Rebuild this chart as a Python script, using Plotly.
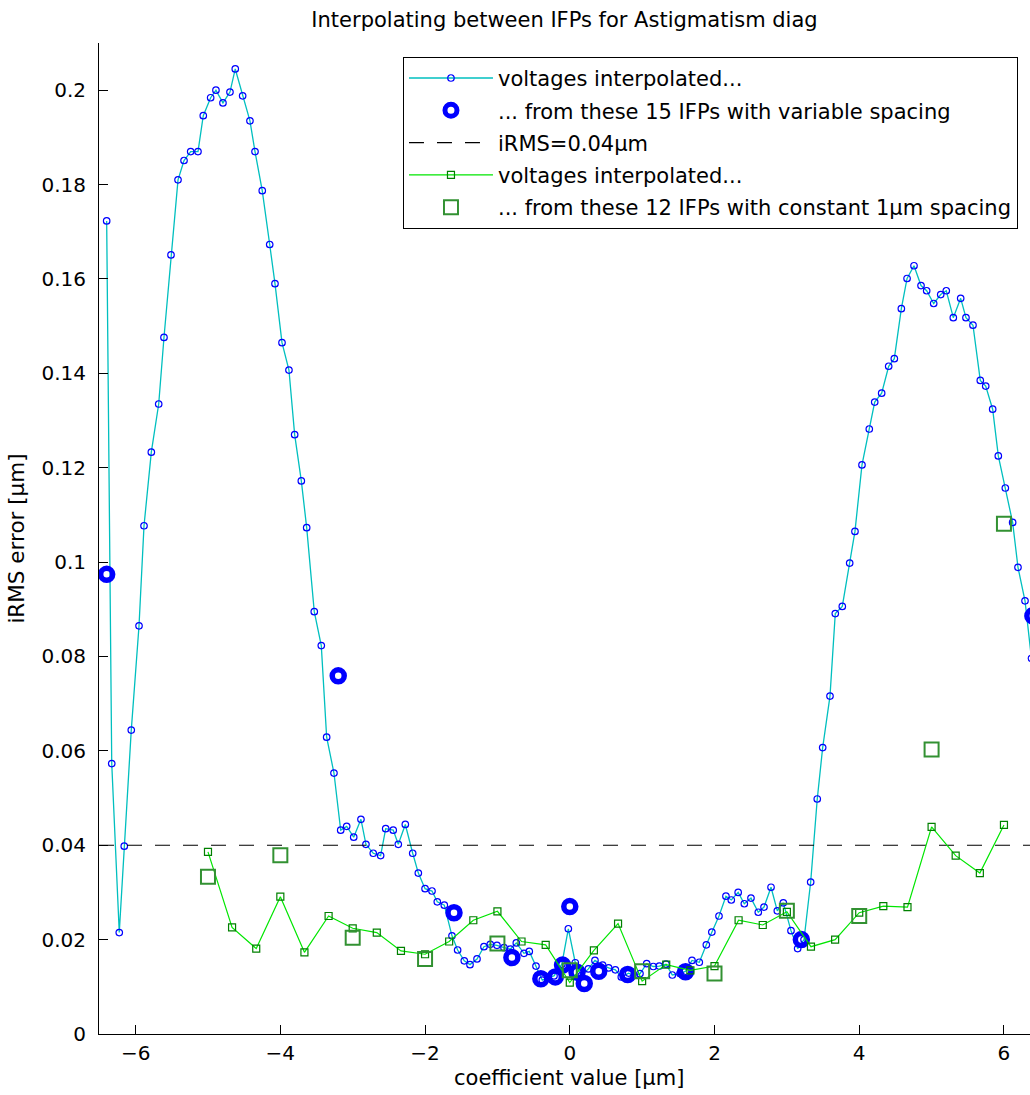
import plotly.graph_objects as go

# Interpolated voltages between 15 IFPs placed with variable spacing
var_x = [-6.40, -6.33, -6.226, -6.157, -6.06, -5.953, -5.884, -5.783, -5.681, -5.608,
         -5.511, -5.414, -5.331, -5.239, -5.138, -5.065, -4.963, -4.89, -4.793, -4.696,
         -4.623, -4.521, -4.42, -4.35, -4.25, -4.147, -4.074, -3.977, -3.881, -3.802,
         -3.71, -3.636, -3.531, -3.434, -3.36, -3.259, -3.166, -3.083, -2.986, -2.886,
         -2.817, -2.716, -2.614, -2.544, -2.44, -2.37, -2.273, -2.171, -2.093, -2.0,
         -1.904, -1.831, -1.734, -1.628, -1.55, -1.458, -1.379, -1.282, -1.186, -1.099,
         -1.006, -0.909, -0.82, -0.739, -0.633, -0.56, -0.467, -0.38, -0.3, -0.218,
         -0.11, -0.02, 0.076, 0.16, 0.257, 0.348, 0.454, 0.537, 0.63, 0.712,
         0.814, 0.89, 0.97, 1.063, 1.154, 1.237, 1.33, 1.417, 1.523, 1.6,
         1.689, 1.79, 1.887, 1.963, 2.062, 2.158, 2.232, 2.327, 2.412, 2.504,
         2.605, 2.684, 2.781, 2.868, 2.951, 3.057, 3.149, 3.237, 3.329, 3.42,
         3.495, 3.596, 3.669, 3.766, 3.868, 3.941, 4.038, 4.139, 4.214, 4.31,
         4.407, 4.485, 4.582, 4.661, 4.757, 4.854, 4.932, 5.029, 5.126, 5.203,
         5.3, 5.402, 5.475, 5.572, 5.673, 5.748, 5.844, 5.922, 6.019, 6.12,
         6.194, 6.291, 6.38]
var_err = [0.1723, 0.0573, 0.0215, 0.0398, 0.0644, 0.0865, 0.1077, 0.1233, 0.1335, 0.1476,
           0.1651, 0.1810, 0.1851, 0.1870, 0.1870, 0.1946, 0.1984, 0.2000, 0.1973, 0.1996,
           0.2045, 0.1988, 0.1935, 0.1870, 0.1787, 0.1673, 0.1590, 0.1465, 0.1407, 0.1270,
           0.1172, 0.1073, 0.0895, 0.0823, 0.0629, 0.0553, 0.0432, 0.0440, 0.0417, 0.0455,
           0.0402, 0.0383, 0.0378, 0.0435, 0.0432, 0.0402, 0.0444, 0.0383, 0.0341, 0.0308,
           0.0303, 0.0280, 0.0273, 0.0208, 0.0178, 0.0155, 0.0147, 0.0159, 0.0185, 0.0190,
           0.0188, 0.0183, 0.0180, 0.0193, 0.0171, 0.0175, 0.0144, 0.0114, 0.0120, 0.0123,
           0.0148, 0.0223, 0.0151, 0.0124, 0.0138, 0.0156, 0.0146, 0.0140, 0.0136, 0.0121,
           0.0129, 0.0124, 0.0128, 0.0149, 0.0143, 0.0144, 0.0148, 0.0125, 0.0128, 0.0133,
           0.0156, 0.0152, 0.0189, 0.0216, 0.0250, 0.0292, 0.0284, 0.0300, 0.0276, 0.0288,
           0.0258, 0.0269, 0.0311, 0.0261, 0.0278, 0.0219, 0.0181, 0.0200, 0.0322, 0.0498,
           0.0607, 0.0716, 0.0891, 0.0906, 0.0998, 0.1065, 0.1206, 0.1282, 0.1339, 0.1358,
           0.1415, 0.1431, 0.1537, 0.1601, 0.1628, 0.1586, 0.1575, 0.1548, 0.1567, 0.1575,
           0.1518, 0.1559, 0.1518, 0.1502, 0.1385, 0.1373, 0.1324, 0.1225, 0.1157, 0.1084,
           0.0989, 0.0918, 0.0796]

# The 15 IFPs with variable spacing
var_ifp_x = [-6.4, -3.2, -1.6, -0.8, -0.4, -0.2, -0.1, 0.0, 0.1, 0.2, 0.4, 0.8, 1.6, 3.2, 6.4]
var_ifp_err = [0.0974, 0.0759, 0.0257, 0.0162, 0.0117, 0.0121, 0.0146, 0.0270, 0.0131,
               0.0107, 0.0133, 0.0126, 0.0132, 0.0200, 0.0886]

# Interpolated voltages between 12 IFPs with constant 1 µm spacing
const_x = [-5.0, -4.667, -4.333, -4.0, -3.667, -3.333, -3.0, -2.667, -2.333, -2.0,
           -1.667, -1.333, -1.0, -0.667, -0.333, 0.0, 0.333, 0.667, 1.0, 1.333,
           1.667, 2.0, 2.333, 2.667, 3.0, 3.333, 3.667, 4.0, 4.333, 4.667,
           5.0, 5.333, 5.667, 6.0]
const_err = [0.0386, 0.0226, 0.0181, 0.0291, 0.0173, 0.0250, 0.0224, 0.0215, 0.0176, 0.0169,
             0.0196, 0.0241, 0.0260, 0.0196, 0.0189, 0.0109, 0.0177, 0.0234, 0.0112, 0.0147,
             0.0135, 0.0144, 0.0241, 0.0231, 0.0259, 0.0185, 0.0200, 0.0257, 0.0271, 0.0269,
             0.0439, 0.0378, 0.0341, 0.0443]

# The 12 IFPs with constant spacing
const_ifp_x = [-5, -4, -3, -2, -1, 0, 1, 2, 3, 4, 5, 6]
const_ifp_err = [0.0333, 0.0379, 0.0204, 0.0159, 0.0192, 0.0135, 0.0133, 0.0128,
                 0.0261, 0.0250, 0.0603, 0.1081]

irms_limit = 0.04
x_range = [-6.506, 6.36]
y_range = [0, 0.21]

FONT = "DejaVu Sans"

fig = go.Figure()

fig.add_trace(go.Scatter(
    x=var_x, y=var_err, mode="lines+markers",
    name="voltages interpolated...", legendgroup="a",
    line=dict(color="rgb(0,191,191)", width=1.3),
    marker=dict(symbol="circle-open", size=6.5, color="#0000ff", line=dict(width=1.2)),
))
fig.add_trace(go.Scatter(
    x=var_ifp_x, y=var_ifp_err, mode="markers",
    name="... from these 15 IFPs with variable spacing", legendgroup="b",
    marker=dict(symbol="circle-open", size=12, color="#0000ff", line=dict(width=5.5)),
))
fig.add_trace(go.Scatter(
    x=[x_range[0], 6.5], y=[irms_limit, irms_limit], mode="lines",
    name="iRMS=0.04μm", legendgroup="c",
    line=dict(color="black", width=1.2, dash="15px,13px"),
))
fig.add_trace(go.Scatter(
    x=const_x, y=const_err, mode="lines+markers",
    name="voltages interpolated...", legendgroup="d",
    line=dict(color="#00e600", width=1.2),
    marker=dict(symbol="square-open", size=7, color="rgb(0,128,0)", line=dict(width=1.2)),
))
fig.add_trace(go.Scatter(
    x=const_ifp_x, y=const_ifp_err, mode="markers",
    name="... from these 12 IFPs with constant 1μm spacing", legendgroup="e",
    marker=dict(symbol="square-open", size=14, color="rgb(50,145,50)", line=dict(width=2)),
))

axis_common = dict(
    showline=True, linecolor="black", linewidth=1, mirror=False,
    showgrid=False, zeroline=False,
    ticks="inside", ticklen=9, tickwidth=1, tickcolor="black",
    tickfont=dict(family=FONT, size=20, color="black"),
)

fig.update_layout(
    width=1030, height=1095,
    margin=dict(l=99, r=0, t=43, b=61),
    paper_bgcolor="white", plot_bgcolor="white",
    title=dict(text="Interpolating between IFPs for Astigmatism diag",
               x=0.5, xref="paper", y=0.982, yref="container", yanchor="middle",
               font=dict(family=FONT, size=21, color="black")),
    xaxis=dict(range=x_range, tickvals=[-6, -4, -2, 0, 2, 4, 6], ticklabelstandoff=1,
               **axis_common),
    yaxis=dict(range=y_range, dtick=0.02, tick0=0, ticklabelstandoff=8,
               title=dict(text="iRMS error [μm]", standoff=10,
                          font=dict(family=FONT, size=21.5, color="black")),
               **axis_common),
    legend=dict(x=0.3265, y=0.986, xanchor="left", yanchor="top",
                bgcolor="white", bordercolor="black", borderwidth=1,
                font=dict(family=FONT, size=21, color="black"),
                traceorder="grouped", tracegroupgap=2, itemwidth=84),
    showlegend=True,
)

# x-axis label placed just under the tick labels
fig.add_annotation(
    text="coefficient value [μm]", xref="paper", yref="paper",
    x=0.505, y=-0.0444, xanchor="center", yanchor="middle", showarrow=False,
    font=dict(family=FONT, size=21, color="black"),
)

fig.write_html("out.html")
